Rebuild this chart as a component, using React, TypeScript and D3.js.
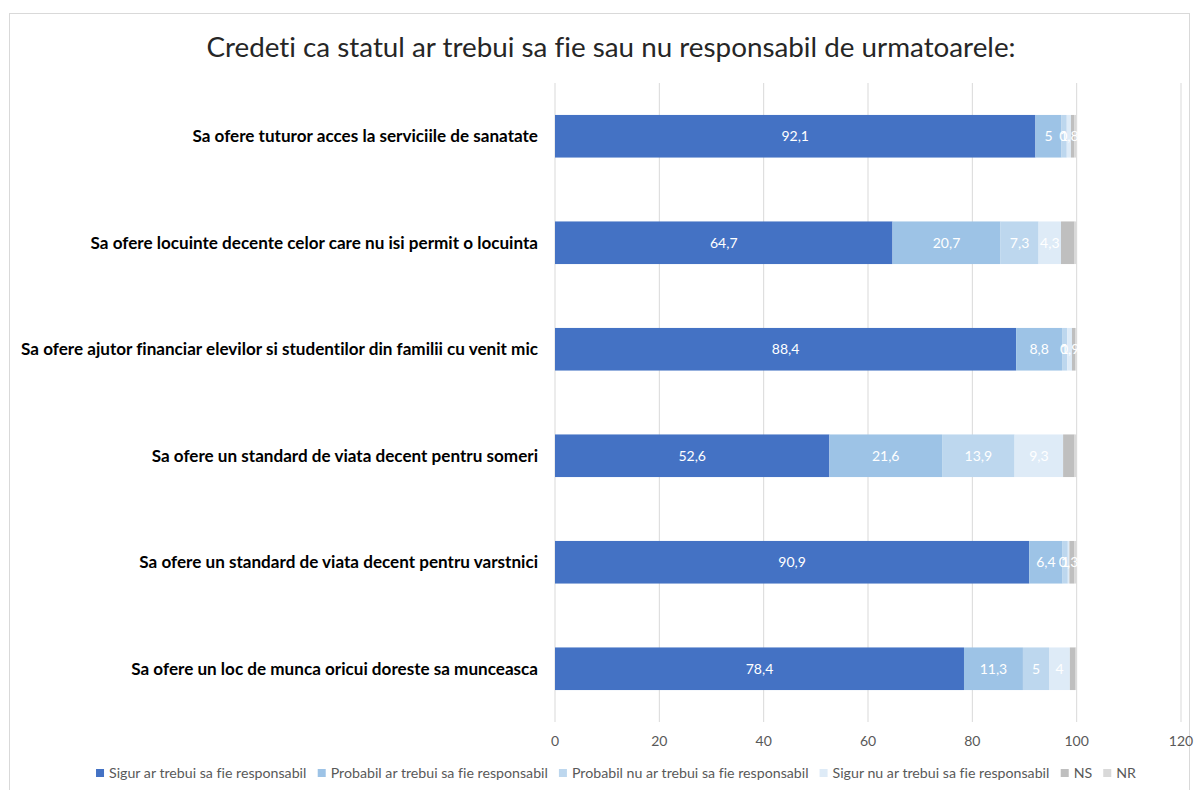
import React from "react";
import * as d3 from "d3";

const categories = [
  "Sa ofere tuturor acces la serviciile de sanatate",
  "Sa ofere locuinte decente celor care nu isi permit o locuinta",
  "Sa ofere ajutor financiar elevilor si studentilor din familii cu venit mic",
  "Sa ofere un standard de viata decent pentru someri",
  "Sa ofere un standard de viata decent pentru varstnici",
  "Sa ofere un loc de munca oricui doreste sa munceasca",
];

const seriesNames = [
  "Sigur ar trebui sa fie responsabil",
  "Probabil ar trebui sa fie responsabil",
  "Probabil nu ar trebui sa fie responsabil",
  "Sigur nu ar trebui sa fie responsabil",
  "NS",
  "NR",
];

const sigurDa = [92.1, 64.7, 88.4, 52.6, 90.9, 78.4];
const probabilDa = [5, 20.7, 8.8, 21.6, 6.4, 11.3];
const probabilNu = [1, 7.3, 1, 13.9, 1, 5];
const sigurNu = [0.8, 4.3, 0.9, 9.3, 0.3, 4];
const ns = [0.6, 2.6, 0.6, 2.2, 0.9, 1.1];
const nr = [0.4, 0.4, 0.3, 0.4, 0.5, 0.2];

const seriesValues = [sigurDa, probabilDa, probabilNu, sigurNu, ns, nr];
const seriesColors = ["#4472C4", "#9DC3E6", "#BDD7EE", "#DEEBF7", "#BFBFBF", "#D9D9D9"];
const labeledSeries = [true, true, true, true, false, false];

const xTicks = [0, 20, 40, 60, 80, 100, 120];

const title = "Credeti ca statul ar trebui sa fie sau nu responsabil de urmatoarele:";

const FONT = "Lato, 'Open Sans', sans-serif";

function measure(text: string, font: string): number {
  if (typeof document === "undefined") return text.length * 6;
  const c = document.createElement("canvas");
  const ctx = c.getContext("2d");
  if (!ctx) return text.length * 6;
  ctx.font = font;
  return ctx.measureText(text).width;
}

export default function App() {
  const W = 1200;
  const H = 790;
  const plotLeft = 555;
  const plotRight = 1181;
  const plotTop = 83;
  const plotBottom = 722;

  const x = d3.scaleLinear().domain([0, 120]).range([plotLeft, plotRight]);
  const y = d3
    .scaleBand<string>()
    .domain(categories)
    .range([plotTop, plotBottom])
    .paddingInner(0.6)
    .paddingOuter(0.3);

  const rows = categories.map((cat, i) => {
    let acc = 0;
    return seriesValues.map((vals, s) => {
      const v = vals[i];
      const seg = { cat, s, x0: acc, x1: acc + v, v };
      acc += v;
      return seg;
    });
  });

  const fmt = (v: number) => String(v).replace(".", ",");

  // legend layout
  const legendSize = 14.2;
  const legendFont = `${legendSize}px Lato`;
  const sq = 8;
  const sqGap = 5;
  const itemGap = 11;
  const widths = seriesNames.map((n) => measure(n, legendFont));
  const total = widths.reduce((a, w) => a + sq + sqGap + w, 0) + itemGap * (seriesNames.length - 1);
  let lx = 616 - total / 2;
  const legendItems = seriesNames.map((n, i) => {
    const item = { n, i, x: lx };
    lx += sq + sqGap + widths[i] + itemGap;
    return item;
  });
  const legendY = 778;

  return (
    <svg
      width={W}
      height={H}
      style={{ position: "absolute", left: 0, top: 0, background: "#fff", fontVariantLigatures: "none" }}
      fontFamily={FONT}
    >
      <rect x={0} y={0} width={W} height={H} fill="#fff" />
      <rect x={9.5} y={13.5} width={1180} height={800} fill="none" stroke="#D9D9D9" strokeWidth={1} />
      <text x={611} y={57} textAnchor="middle" fontSize={27.8} fill="#262626">
        {title}
      </text>

      {xTicks.map((t) => (
        <g key={t}>
          <line x1={x(t)} x2={x(t)} y1={plotTop} y2={plotBottom} stroke="#D9D9D9" strokeWidth={1} />
          <text x={x(t)} y={746} textAnchor="middle" fontSize={14} fill="#595959">
            {t}
          </text>
        </g>
      ))}

      {rows.map((segs, i) => (
        <g key={i}>
          {segs.map((sg) => (
            <rect
              key={sg.s}
              x={x(sg.x0)}
              y={y(sg.cat)}
              width={Math.max(0, x(sg.x1) - x(sg.x0))}
              height={y.bandwidth()}
              fill={seriesColors[sg.s]}
            />
          ))}
          {segs
            .filter((sg) => labeledSeries[sg.s])
            .map((sg) => (
              <text
                key={"l" + sg.s}
                x={(x(sg.x0) + x(sg.x1)) / 2}
                y={(y(sg.cat) as number) + y.bandwidth() / 2}
                dy="0.35em"
                textAnchor="middle"
                fontSize={14}
                fill="#fff"
              >
                {fmt(sg.v)}
              </text>
            ))}
          <text
            x={538}
            y={(y(categories[i]) as number) + y.bandwidth() / 2}
            dy="0.35em"
            textAnchor="end"
            fontSize={17.1}
            fontWeight="bold"
            fill="#000"
          >
            {categories[i]}
          </text>
        </g>
      ))}

      {legendItems.map((it) => (
        <g key={it.n}>
          <rect x={it.x} y={legendY - sq - 1} width={sq} height={sq} fill={seriesColors[it.i]} />
          <text x={it.x + sq + sqGap} y={legendY} fontSize={legendSize} fill="#595959">
            {it.n}
          </text>
        </g>
      ))}
    </svg>
  );
}
